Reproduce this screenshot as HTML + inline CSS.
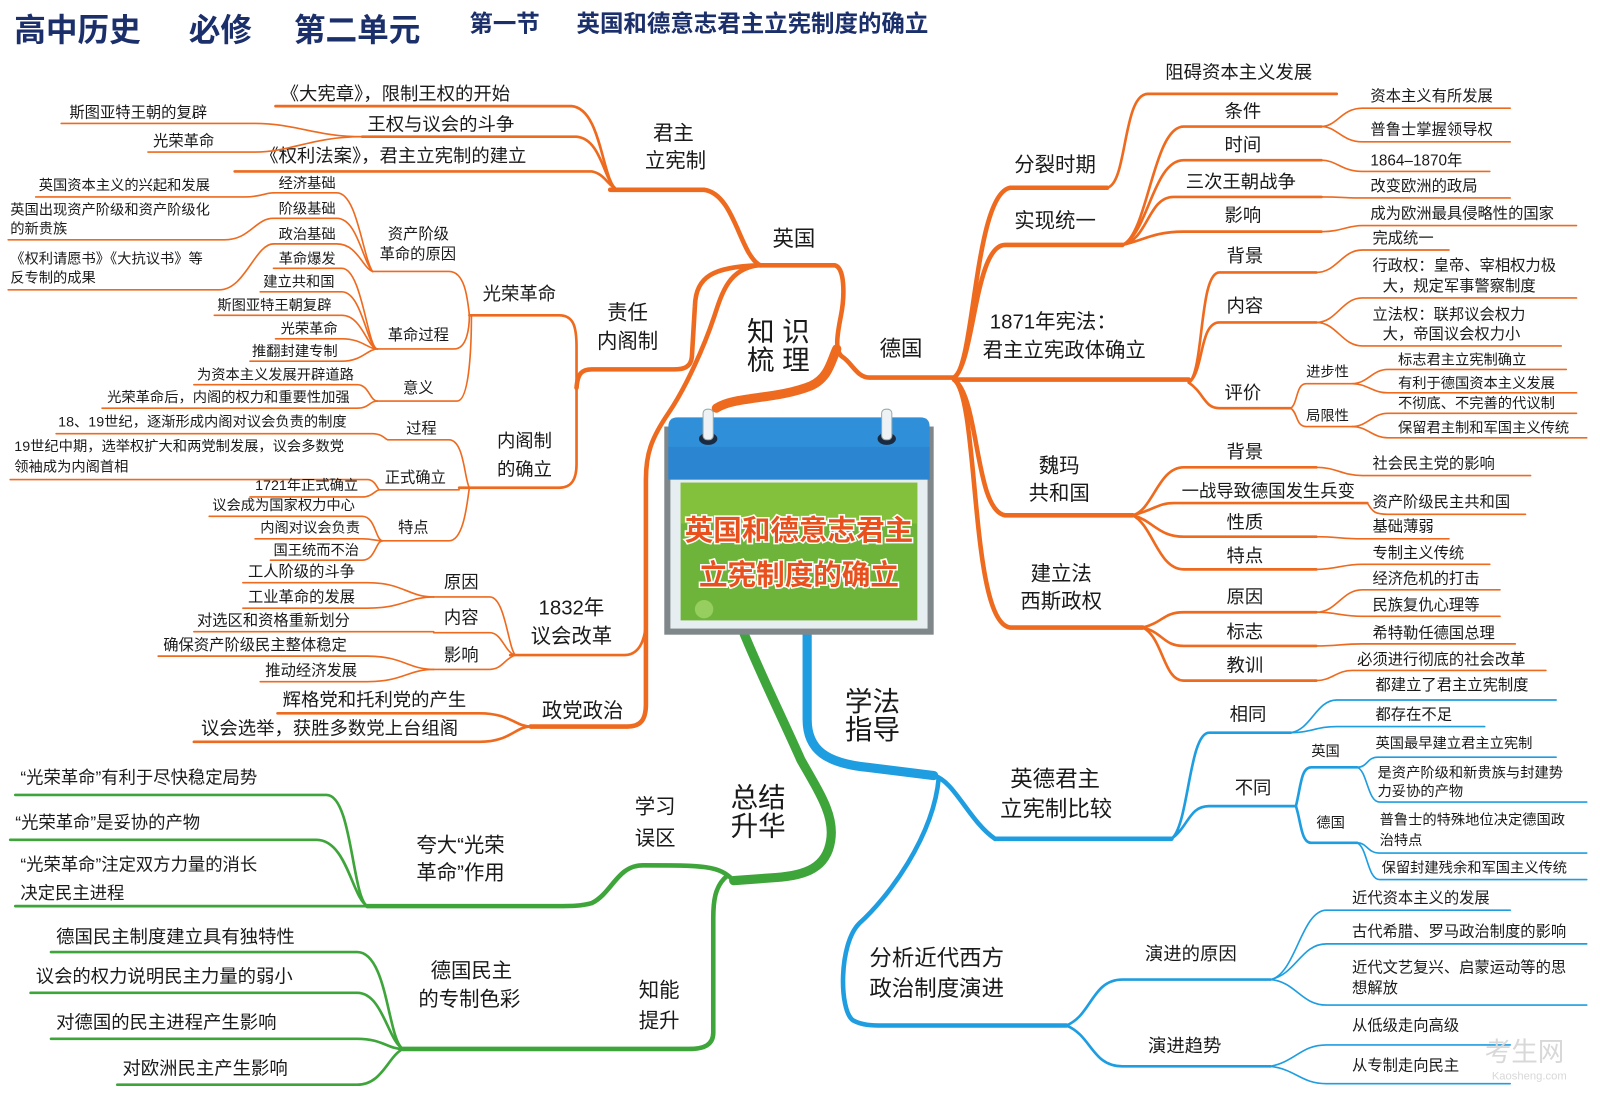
<!DOCTYPE html>
<html><head><meta charset="utf-8"><style>
html,body{margin:0;padding:0;background:#fff;}
svg{display:block;}
text{font-family:"Liberation Sans","Noto Sans CJK SC",sans-serif;fill:#1a1a1a;}
.o{fill:none;stroke:#ee6a1e;stroke-linecap:round;}
.b{fill:none;stroke:#1e9de0;stroke-linecap:round;}
.g{fill:none;stroke:#3da53a;stroke-linecap:round;}
.t1{stroke-width:1.6}.t2{stroke-width:2.6}.t3{stroke-width:4.5}.t4{stroke-width:9}
</style></head><body>
<svg width="1600" height="1100" viewBox="0 0 1568 1078" preserveAspectRatio="none" xmlns="http://www.w3.org/2000/svg">
<rect width="1568" height="1078" fill="#fff"/>
<!-- title -->
<g font-weight="bold" style="font-weight:bold">
<text x="14" y="40" font-size="31" style="fill:#1b2f6b" font-weight="bold">高中历史</text>
<text x="185" y="40" font-size="31" style="fill:#1b2f6b" font-weight="bold">必修</text>
<text x="288" y="40" font-size="31" style="fill:#1b2f6b" font-weight="bold">第二单元</text>
<text x="460" y="31" font-size="23" style="fill:#1b2f6b" font-weight="bold">第一节</text>
<text x="565" y="31" font-size="23" style="fill:#1b2f6b" font-weight="bold">英国和德意志君主立宪制度的确立</text>
</g>

<!-- ============ ORANGE LEFT ============ -->
<path class="o t3" d="M742,260 C715,264 708,285 700,310 C690,340 672,380 655,405 C638,430 633,445 633,470 V690 C633,705 628,712 615,712 H520"/>
<path class="o t3" d="M742,260 H818 C828,262 828,290 824,310 C820,330 818,345 826,350 C835,356 840,370 852,370 H935"/>
<path class="o t4" d="M702,400 C720,388 760,392 795,378 C812,370 814,355 820,342"/>
<path class="o t3" d="M742,260 C700,262 682,270 681,300 L678,350 C677,360 670,362 660,362 H580 C570,362 566,366 565,380"/>
<path class="o t3" d="M598,186 H690 C720,190 725,250 745,260"/>
<text x="757" y="241" font-size="21">英国</text>
<text x="640" y="137" font-size="20">君主</text>
<text x="632" y="164" font-size="20">立宪制</text>
<text x="595" y="313" font-size="20">责任</text>
<text x="585" y="341" font-size="20">内阁制</text>
<text x="732" y="334" font-size="27">知 识</text>
<text x="732" y="362" font-size="27">梳 理</text>

<path class="o t2" d="M270,104 H560 C590,106 590,180 605,186"/>
<path class="o t2" d="M355,134 H565 C590,136 592,180 605,186"/>
<path class="o t2" d="M230,168 H580 C592,170 596,182 605,186"/>
<text x="275" y="98" font-size="18">《大宪章》，限制王权的开始</text>
<text x="360" y="128" font-size="18">王权与议会的斗争</text>
<text x="255" y="159" font-size="18">《权利法案》，君主立宪制的建立</text>
<path class="o t1" d="M60,121 H250 C290,121 310,134 355,134"/>
<path class="o t1" d="M145,149 H250 C285,149 305,134 355,134"/>
<text x="68" y="115" font-size="15">斯图亚特王朝的复辟</text>
<text x="150" y="143" font-size="15">光荣革命</text>

<!-- 光荣革命 -->
<path class="o t2" d="M460,309 H548 C562,309 565,320 565,340 V455 C565,470 560,478 548,478 H450"/>
<text x="473" y="294" font-size="18">光荣革命</text>
<path class="o t1" d="M365,266 H440 C455,266 458,290 460,309"/>
<text x="380" y="234" font-size="15">资产阶级</text>
<text x="372" y="254" font-size="15">革命的原因</text>
<path class="o t1" d="M268,189 H330 C350,189 355,250 365,266"/>
<path class="o t1" d="M268,214 H330 C350,214 355,255 365,266"/>
<path class="o t1" d="M268,239 H330 C350,239 355,262 365,266"/>
<text x="273" y="184" font-size="14">经济基础</text>
<text x="273" y="209" font-size="14">阶级基础</text>
<text x="273" y="234" font-size="14">政治基础</text>
<path class="o t1" d="M35,193 H240 C255,193 260,189 268,189"/>
<path class="o t1" d="M8,235 H220 C245,235 250,214 268,214"/>
<path class="o t1" d="M8,284 H215 C240,284 250,239 268,239"/>
<text x="38" y="186" font-size="14">英国资本主义的兴起和发展</text>
<text x="10" y="210" font-size="14">英国出现资产阶级和资产阶级化</text>
<text x="10" y="229" font-size="14">的新贵族</text>
<text x="10" y="258" font-size="14">《权利请愿书》《大抗议书》等</text>
<text x="10" y="277" font-size="14">反专制的成果</text>

<path class="o t1" d="M370,342 H445 C458,342 460,320 460,309"/>
<text x="380" y="333" font-size="15">革命过程</text>
<path class="o t1" d="M268,263 H335 C355,263 360,342 370,342"/>
<path class="o t1" d="M255,286 H335 C355,286 360,342 370,342"/>
<path class="o t1" d="M210,309 H335 C355,309 360,342 370,342"/>
<path class="o t1" d="M270,332 H335 C355,332 360,342 370,342"/>
<path class="o t1" d="M245,354 H335 C355,354 360,342 370,342"/>
<text x="273" y="258" font-size="14">革命爆发</text>
<text x="258" y="281" font-size="14">建立共和国</text>
<text x="213" y="304" font-size="14">斯图亚特王朝复辟</text>
<text x="275" y="327" font-size="14">光荣革命</text>
<text x="247" y="349" font-size="14">推翻封建专制</text>

<path class="o t1" d="M370,393 H448 C462,393 462,320 462,309"/>
<text x="395" y="385" font-size="15">意义</text>
<path class="o t1" d="M190,377 H350 C362,377 362,393 370,393"/>
<path class="o t1" d="M100,400 H350 C362,400 362,393 370,393"/>
<text x="193" y="372" font-size="14">为资本主义发展开辟道路</text>
<text x="105" y="394" font-size="14">光荣革命后，内阁的权力和重要性加强</text>

<text x="487" y="438" font-size="18">内阁制</text>
<text x="487" y="466" font-size="18">的确立</text>
<path class="o t1" d="M380,431 H440 C455,431 455,470 460,478"/>
<text x="398" y="425" font-size="15">过程</text>
<path class="o t1" d="M55,425 H365 C375,425 378,431 380,431"/>
<text x="57" y="418" font-size="14">18、19世纪，逐渐形成内阁对议会负责的制度</text>
<path class="o t1" d="M372,480 H450"/>
<text x="377" y="473" font-size="15">正式确立</text>
<path class="o t1" d="M10,470 H360 C368,470 370,480 372,480"/>
<path class="o t1" d="M245,487 H355 C365,487 368,480 372,480"/>
<text x="14" y="442" font-size="14">19世纪中期，选举权扩大和两党制发展，议会多数党</text>
<text x="14" y="462" font-size="14">领袖成为内阁首相</text>
<text x="250" y="480" font-size="14">1721年正式确立</text>
<path class="o t1" d="M375,530 H440 C455,530 458,490 460,478"/>
<text x="390" y="522" font-size="15">特点</text>
<path class="o t1" d="M205,506 H355 C368,506 368,530 375,530"/>
<path class="o t1" d="M250,528 H355 C365,528 368,530 375,530"/>
<path class="o t1" d="M265,549 H355 C368,549 368,530 375,530"/>
<text x="208" y="500" font-size="14">议会成为国家权力中心</text>
<text x="255" y="522" font-size="14">内阁对议会负责</text>
<text x="268" y="544" font-size="14">国王统而不治</text>

<!-- 1832 -->
<path class="o t2" d="M500,642 H612 C625,642 632,630 633,610"/>
<text x="560" y="602" font-size="20" text-anchor="middle">1832年</text>
<text x="560" y="630" font-size="20" text-anchor="middle">议会改革</text>
<path class="o t1" d="M425,585 H480 C495,585 498,635 505,642"/>
<path class="o t1" d="M425,620 H480 C492,620 495,640 505,642"/>
<path class="o t1" d="M425,656 H480 C492,656 495,645 505,642"/>
<text x="435" y="576" font-size="17">原因</text>
<text x="435" y="611" font-size="17">内容</text>
<text x="435" y="648" font-size="17">影响</text>
<path class="o t1" d="M238,571 H360 C395,571 400,585 425,585"/>
<path class="o t1" d="M238,596 H360 C395,596 400,585 425,585"/>
<path class="o t1" d="M190,619 H425"/>
<path class="o t1" d="M155,643 H360 C395,643 400,656 425,656"/>
<path class="o t1" d="M255,668 H360 C395,668 400,656 425,656"/>
<text x="243" y="565" font-size="15">工人阶级的斗争</text>
<text x="243" y="590" font-size="15">工业革命的发展</text>
<text x="193" y="613" font-size="15">对选区和资格重新划分</text>
<text x="160" y="637" font-size="15">确保资产阶级民主整体稳定</text>
<text x="260" y="662" font-size="15">推动经济发展</text>
<text x="531" y="703" font-size="20">政党政治</text>
<path class="o t2" d="M272,699 H470 C500,699 505,712 520,712"/>
<path class="o t2" d="M190,727 H470 C500,727 505,712 520,712"/>
<text x="277" y="692" font-size="18">辉格党和托利党的产生</text>
<text x="197" y="720" font-size="18">议会选举，获胜多数党上台组阁</text>

<!-- ============ ORANGE RIGHT ============ -->
<text x="862" y="349" font-size="21">德国</text>
<path class="o t3" d="M935,370 C955,360 955,190 990,184 H1085"/>
<path class="o t2" d="M1085,184 C1105,180 1100,92 1125,92 H1310"/>
<text x="994" y="168" font-size="20">分裂时期</text>
<text x="1142" y="77" font-size="18">阻碍资本主义发展</text>
<path class="o t3" d="M935,370 C955,355 955,240 985,240 H1100"/>
<text x="994" y="223" font-size="20">实现统一</text>
<path class="o t2" d="M1100,240 C1125,230 1130,124 1160,124 H1295"/>
<path class="o t2" d="M1100,240 C1125,230 1130,157 1160,157 H1295"/>
<path class="o t2" d="M1100,240 C1125,235 1125,193 1150,193 H1295"/>
<path class="o t2" d="M1100,240 C1120,236 1130,227 1160,227 H1295"/>
<text x="1200" y="115" font-size="18">条件</text>
<text x="1200" y="148" font-size="18">时间</text>
<text x="1162" y="184" font-size="18">三次王朝战争</text>
<text x="1200" y="217" font-size="18">影响</text>
<path class="o t1" d="M1295,124 C1310,124 1315,106 1335,106 H1480"/>
<path class="o t1" d="M1295,124 C1310,124 1315,139 1335,139 H1480"/>
<path class="o t1" d="M1295,157 C1310,157 1315,168 1335,168 H1460"/>
<path class="o t1" d="M1295,193 C1315,193 1320,194 1335,194 H1480"/>
<path class="o t1" d="M1295,227 C1315,227 1320,221 1335,221 H1545"/>
<text x="1343" y="99" font-size="15">资本主义有所发展</text>
<text x="1343" y="132" font-size="15">普鲁士掌握领导权</text>
<text x="1343" y="162" font-size="15">1864–1870年</text>
<text x="1343" y="187" font-size="15">改变欧洲的政局</text>
<text x="1343" y="214" font-size="15">成为欧洲最具侵略性的国家</text>

<path class="o t3" d="M935,372 H1165"/>
<text x="970" y="322" font-size="20">1871年宪法：</text>
<text x="963" y="350" font-size="20">君主立宪政体确立</text>
<path class="o t2" d="M1165,375 C1180,365 1175,267 1195,267 H1290"/>
<path class="o t2" d="M1165,375 C1180,365 1175,316 1195,316 H1290"/>
<path class="o t2" d="M1165,375 C1180,385 1180,400 1195,400 H1265"/>
<text x="1202" y="257" font-size="18">背景</text>
<text x="1202" y="306" font-size="18">内容</text>
<text x="1200" y="391" font-size="18">评价</text>
<path class="o t1" d="M1290,267 C1310,267 1315,245 1335,245 H1420"/>
<path class="o t1" d="M1290,316 C1310,316 1315,292 1335,292 H1545"/>
<path class="o t1" d="M1290,316 C1310,316 1315,339 1335,339 H1530"/>
<text x="1345" y="238" font-size="15">完成统一</text>
<text x="1345" y="265" font-size="15">行政权：皇帝、宰相权力极</text>
<text x="1355" y="285" font-size="15">大，规定军事警察制度</text>
<text x="1345" y="313" font-size="15">立法权：联邦议会权力</text>
<text x="1355" y="332" font-size="15">大，帝国议会权力小</text>
<path class="o t1" d="M1265,400 C1272,395 1270,376 1280,376 H1325"/>
<path class="o t1" d="M1265,400 C1272,405 1270,418 1280,418 H1325"/>
<text x="1280" y="369" font-size="14">进步性</text>
<text x="1280" y="412" font-size="14">局限性</text>
<path class="o t1" d="M1325,376 C1340,376 1345,362 1360,362 H1535"/>
<path class="o t1" d="M1325,376 C1340,376 1345,385 1360,385 H1545"/>
<path class="o t1" d="M1325,418 C1340,418 1345,405 1360,405 H1545"/>
<path class="o t1" d="M1325,418 C1340,418 1345,429 1360,429 H1555"/>
<text x="1370" y="357" font-size="14">标志君主立宪制确立</text>
<text x="1370" y="380" font-size="14">有利于德国资本主义发展</text>
<text x="1370" y="400" font-size="14">不彻底、不完善的代议制</text>
<text x="1370" y="424" font-size="14">保留君主制和军国主义传统</text>

<path class="o t3" d="M935,372 C960,390 955,500 985,505 H1110"/>
<text x="1018" y="463" font-size="20">魏玛</text>
<text x="1008" y="490" font-size="20">共和国</text>
<path class="o t2" d="M1110,505 C1130,500 1135,458 1160,458 H1290"/>
<path class="o t2" d="M1110,505 C1130,500 1135,493 1150,493 H1340"/>
<path class="o t2" d="M1110,505 C1130,510 1135,526 1160,526 H1290"/>
<path class="o t2" d="M1110,505 C1130,515 1135,558 1160,558 H1290"/>
<text x="1202" y="449" font-size="18">背景</text>
<text x="1158" y="487" font-size="17">一战导致德国发生兵变</text>
<text x="1202" y="518" font-size="18">性质</text>
<text x="1202" y="551" font-size="18">特点</text>
<path class="o t1" d="M1290,458 C1310,458 1315,466 1335,466 H1500"/>
<path class="o t1" d="M1340,493 C1345,500 1345,504 1360,504 H1495"/>
<path class="o t1" d="M1290,526 C1310,526 1315,528 1335,528 H1420"/>
<path class="o t1" d="M1290,558 C1310,558 1315,553 1335,553 H1460"/>
<text x="1345" y="459" font-size="15">社会民主党的影响</text>
<text x="1345" y="497" font-size="15">资产阶级民主共和国</text>
<text x="1345" y="521" font-size="15">基础薄弱</text>
<text x="1345" y="547" font-size="15">专制主义传统</text>

<path class="o t3" d="M935,372 C960,390 950,610 990,615 H1120"/>
<text x="1010" y="569" font-size="20">建立法</text>
<text x="1000" y="596" font-size="20">西斯政权</text>
<path class="o t2" d="M1120,615 C1140,610 1140,600 1160,600 H1290"/>
<path class="o t2" d="M1120,615 C1140,620 1140,633 1160,633 H1290"/>
<path class="o t2" d="M1120,615 C1140,625 1140,667 1160,667 H1290"/>
<text x="1202" y="591" font-size="18">原因</text>
<text x="1202" y="625" font-size="18">标志</text>
<text x="1202" y="658" font-size="18">教训</text>
<path class="o t1" d="M1290,600 C1310,600 1315,578 1335,578 H1470"/>
<path class="o t1" d="M1290,600 C1310,600 1315,604 1335,604 H1470"/>
<path class="o t1" d="M1290,633 C1310,633 1315,631 1335,631 H1485"/>
<path class="o t1" d="M1290,667 C1305,667 1310,657 1325,657 H1515"/>
<text x="1345" y="572" font-size="15">经济危机的打击</text>
<text x="1345" y="598" font-size="15">民族复仇心理等</text>
<text x="1345" y="625" font-size="15">希特勒任德国总理</text>
<text x="1330" y="651" font-size="15">必须进行彻底的社会改革</text>

<!-- ============ BLUE ============ -->
<path class="b t4" d="M791,621 V705 C791,735 810,748 850,752 L915,760"/>
<path class="b t3" d="M915,760 C935,765 950,805 975,822 H1148"/>
<text x="828" y="697" font-size="27">学法</text>
<text x="828" y="724" font-size="27">指导</text>
<text x="990" y="771" font-size="22">英德君主</text>
<text x="980" y="800" font-size="22">立宪制比较</text>
<path class="b t2" d="M1148,822 C1165,810 1165,718 1185,718 H1265"/>
<path class="b t2" d="M1148,822 C1165,810 1165,790 1185,790 H1270"/>
<text x="1205" y="706" font-size="18">相同</text>
<text x="1210" y="778" font-size="18">不同</text>
<path class="b t1" d="M1265,718 C1285,715 1290,686 1310,686 H1525"/>
<path class="b t1" d="M1265,718 C1285,718 1290,712 1310,712 H1455"/>
<text x="1348" y="676" font-size="15">都建立了君主立宪制度</text>
<text x="1348" y="705" font-size="15">都存在不足</text>
<path class="b t2" d="M1270,790 C1275,770 1275,752 1285,752 H1330"/>
<path class="b t2" d="M1270,790 C1275,805 1275,826 1285,826 H1330"/>
<text x="1285" y="741" font-size="14">英国</text>
<text x="1290" y="811" font-size="14">德国</text>
<path class="b t1" d="M1330,752 C1340,752 1340,742 1350,742 H1525"/>
<path class="b t1" d="M1330,752 C1340,755 1340,786 1352,786 H1555"/>
<path class="b t1" d="M1330,826 C1340,826 1340,836 1352,836 H1555"/>
<path class="b t1" d="M1330,826 C1340,830 1340,862 1352,862 H1555"/>
<text x="1348" y="733" font-size="14">英国最早建立君主立宪制</text>
<text x="1350" y="762" font-size="14">是资产阶级和新贵族与封建势</text>
<text x="1350" y="780" font-size="14">力妥协的产物</text>
<text x="1352" y="808" font-size="14">普鲁士的特殊地位决定德国政</text>
<text x="1352" y="828" font-size="14">治特点</text>
<text x="1354" y="855" font-size="14">保留封建残余和军国主义传统</text>

<path class="b t3" d="M920,762 C915,820 870,880 842,905 C822,925 822,990 836,1000 C845,1005 855,1005 866,1005 H1045"/>
<text x="852" y="946" font-size="22">分析近代西方</text>
<text x="852" y="976" font-size="22">政治制度演进</text>
<path class="b t2" d="M1045,1005 C1070,995 1070,960 1100,960 H1245"/>
<path class="b t2" d="M1045,1005 C1070,1015 1070,1045 1100,1045 H1245"/>
<text x="1122" y="941" font-size="18">演进的原因</text>
<text x="1125" y="1031" font-size="18">演进趋势</text>
<path class="b t1" d="M1245,960 C1270,955 1275,892 1300,892 H1480"/>
<path class="b t1" d="M1245,960 C1270,955 1275,925 1300,925 H1555"/>
<path class="b t1" d="M1245,960 C1270,962 1275,985 1300,985 H1555"/>
<path class="b t1" d="M1245,1045 C1270,1040 1275,1024 1300,1024 H1480"/>
<path class="b t1" d="M1245,1045 C1270,1048 1275,1062 1300,1062 H1480"/>
<text x="1325" y="885" font-size="15">近代资本主义的发展</text>
<text x="1325" y="918" font-size="15">古代希腊、罗马政治制度的影响</text>
<text x="1325" y="953" font-size="15">近代文艺复兴、启蒙运动等的思</text>
<text x="1325" y="973" font-size="15">想解放</text>
<text x="1325" y="1010" font-size="15">从低级走向高级</text>
<text x="1325" y="1049" font-size="15">从专制走向民主</text>
<text x="1455" y="1040" font-size="26" style="fill:#d8d8d8">考生网</text>
<text x="1462" y="1058" font-size="11" style="fill:#d8d8d8">Kaosheng.com</text>

<!-- ============ GREEN ============ -->
<path class="g t4" d="M728,618 C745,660 765,700 785,745 C805,780 818,800 814,824 C810,850 790,858 760,860 L719,863"/>
<path class="g t3" d="M719,863 C705,848 690,848 630,848 C605,848 600,875 580,885 C570,888 560,888 540,888 H360"/>
<path class="g t3" d="M713,858 C700,868 699,885 699,900 V1012 C699,1024 690,1028 675,1028 H395"/>
<text x="716" y="791" font-size="27">总结</text>
<text x="716" y="819" font-size="27">升华</text>
<text x="622" y="797" font-size="20">学习</text>
<text x="622" y="828" font-size="20">误区</text>
<text x="626" y="977" font-size="20">知能</text>
<text x="626" y="1007" font-size="20">提升</text>
<text x="408" y="835" font-size="20">夸大“光荣</text>
<text x="408" y="862" font-size="20">革命”作用</text>
<text x="422" y="958" font-size="20">德国民主</text>
<text x="410" y="986" font-size="20">的专制色彩</text>
<path class="g t2" d="M15,779 H320 C345,779 345,880 360,888"/>
<path class="g t2" d="M10,823 H310 C340,823 345,880 360,888"/>
<path class="g t2" d="M15,888 H360"/>
<text x="20" y="768" font-size="17">“光荣革命”有利于尽快稳定局势</text>
<text x="15" y="812" font-size="17">“光荣革命”是妥协的产物</text>
<text x="20" y="853" font-size="17">“光荣革命”注定双方力量的消长</text>
<text x="20" y="881" font-size="17">决定民主进程</text>
<path class="g t2" d="M50,933 H350 C380,933 380,1020 395,1028"/>
<path class="g t2" d="M30,973 H350 C375,973 380,1020 395,1028"/>
<path class="g t2" d="M50,1018 H350 C375,1018 380,1028 395,1028"/>
<path class="g t2" d="M115,1063 H350 C375,1063 380,1035 395,1028"/>
<text x="55" y="924" font-size="18">德国民主制度建立具有独特性</text>
<text x="35" y="963" font-size="18">议会的权力说明民主力量的弱小</text>
<text x="55" y="1008" font-size="18">对德国的民主进程产生影响</text>
<text x="120" y="1053" font-size="18">对欧洲民主产生影响</text>

<!-- ============ CENTER CALENDAR ============ -->
<rect x="651" y="418" width="264" height="204" fill="#7f878b"/>
<rect x="657" y="468" width="252" height="148" fill="#e6eef2"/>
<path d="M655,470 V418 Q655,409 664,409 H902 Q911,409 911,418 V470 Z" fill="#2f8fd8"/>
<rect x="655" y="438" width="256" height="32" fill="#2a7fcc" opacity="0.6"/>
<rect x="667" y="473" width="232" height="135" fill="#6fb43a"/>
<rect x="667" y="473" width="232" height="40" fill="#8cc63f" opacity="0.7"/>
<ellipse cx="694" cy="430" rx="9" ry="6" fill="#1a2a40"/>
<ellipse cx="869" cy="430" rx="9" ry="6" fill="#1a2a40"/>
<rect x="689" y="401" width="10" height="30" rx="4" fill="#eef2f4" stroke="#9aa" stroke-width="1"/>
<rect x="864" y="401" width="10" height="30" rx="4" fill="#eef2f4" stroke="#9aa" stroke-width="1"/>
<circle cx="690" cy="597" r="9" fill="#a6d870" opacity="0.7"/>
<g style="font-weight:bold">
<text x="783" y="529" font-size="28" text-anchor="middle" font-weight="bold" style="fill:#e8501e;stroke:#fff;stroke-width:3;paint-order:stroke">英国和德意志君主</text>
<text x="783" y="573" font-size="28" text-anchor="middle" font-weight="bold" style="fill:#e8501e;stroke:#fff;stroke-width:3;paint-order:stroke">立宪制度的确立</text>
</g>
</svg>
</body></html>
